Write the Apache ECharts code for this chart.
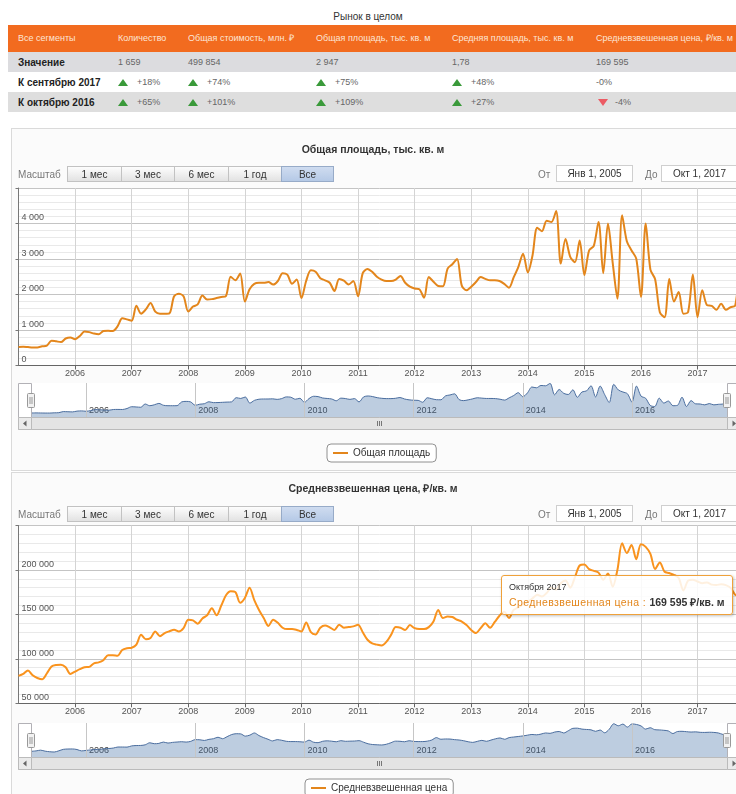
<!DOCTYPE html>
<html><head><meta charset="utf-8">
<script src="https://cdn.jsdelivr.net/npm/echarts@6/dist/echarts.min.js"></script>
<style>
body{margin:0;width:736px;height:794px;overflow:hidden;position:relative;background:#fff;font-family:"Liberation Sans",Arial,sans-serif;}
.a{position:absolute;white-space:nowrap;line-height:11px;}
.rub{line-height:0;}
.btn{position:absolute;height:16px;line-height:16px;font-size:10px;color:#333;text-align:center;background:linear-gradient(#fdfdfd,#e2e2e2);border:1px solid #c2c2c2;box-sizing:border-box;}
.btn.sel{background:linear-gradient(#cfdcf0,#b5c9e6);border-color:#97abc8;}
.inp{position:absolute;height:17px;line-height:15px;font-size:10px;color:#333;text-align:center;background:#fff;border:1px solid #cfcfcf;box-sizing:border-box;}
.tri-up{position:absolute;width:0;height:0;border-left:5px solid transparent;border-right:5px solid transparent;border-bottom:7px solid #3a9a3a;}
.tri-dn{position:absolute;width:0;height:0;border-left:5px solid transparent;border-right:5px solid transparent;border-top:7px solid #ec5b64;}
</style></head><body>
<script>
// ---------------- DATA ----------------
const tableTitle = 'Рынок в целом';
const tableHeaders = ['Все сегменты','Количество','Общая стоимость, млн. ₽','Общая площадь, тыс. кв. м','Средняя площадь, тыс. кв. м','Средневзвешенная цена, ₽/кв. м'];
const rowLabels = ['Значение','К сентябрю 2017','К октябрю 2016'];
const rowValues = [
  ['1 659','499 854','2 947','1,78','169 595'],
  ['+18%','+74%','+75%','+48%','-0%'],
  ['+65%','+101%','+109%','+27%','-4%']
];
const rangeButtons = ['1 мес','3 мес','6 мес','1 год','Все'];
const rangeFrom = 'Янв 1, 2005';
const rangeTo = 'Окт 1, 2017';
const monthNamesGen = ['Января','Февраля','Марта','Апреля','Мая','Июня','Июля','Августа','Сентября','Октября','Ноября','Декабря'];
const startYear = 2005;
const navTicks = [2006, 2008, 2010, 2012, 2014, 2016];

const areaTitle = 'Общая площадь, тыс. кв. м';
const areaName = 'Общая площадь';
const areaValues = [
520,530,520,510,510,540,560,700,680,660,760,790,
740,830,960,940,900,880,970,980,970,1100,1330,1300,
1260,1680,1460,1580,1760,1520,1460,1460,1470,1950,2020,1950,
1520,1660,1720,1970,1860,1870,1900,1930,1960,2500,2400,2590,
1800,2150,2300,2330,2330,2350,2280,2380,2600,2560,2300,2420,
1900,2380,2680,2640,2460,2400,2330,2100,2440,2390,2280,2380,
1950,2600,2720,2640,2500,2420,2380,2380,2420,2520,2330,2220,
2170,2150,1910,2490,2360,2240,2230,2730,2850,3000,2250,2120,
2220,2350,2490,2440,2400,2400,2380,2300,2190,2480,2780,3150,
2620,3100,3880,3780,4080,4040,4350,2870,3560,3060,2910,3520,
2550,3240,3370,4040,2600,4000,2900,1880,4230,3500,3240,3010,
1930,4000,2700,2430,1500,1360,2440,1800,2070,1460,1510,2560,
1360,2120,1700,1680,1570,1740,1570,1640,1690,2947
];

const priceTitle = 'Средневзвешенная цена, ₽/кв. м';
const priceName = 'Средневзвешенная цена';
const priceUnit = '₽/кв. м';
const priceValues = [
80800,83000,87000,81500,78500,77000,83500,91400,93200,93500,90500,83000,
85700,88400,90600,91000,95000,96000,98500,104000,104000,103500,110000,112000,
112500,116000,127000,122000,123500,130800,125500,129000,131000,132700,130800,134600,
144000,143200,139500,145500,149000,157000,149000,160000,171500,176000,175000,163000,
168400,180000,166000,155000,146000,137000,144000,140500,135000,133500,133500,132500,
130800,141000,130000,127500,135000,137500,135500,132500,138400,135000,135700,136500,
138400,130000,121500,117500,116000,115000,119000,127000,135700,135000,132500,138000,
134500,133500,133500,135700,142000,155000,146000,147500,147000,144000,142000,138000,
132500,129000,134600,140000,135000,141500,148500,153000,146000,155000,158000,161000,
164000,168000,172000,170000,174000,180000,178000,185000,188000,180000,192000,205000,
206000,201000,199000,197000,189000,196000,181000,200000,230000,219000,228000,212000,
229000,226000,218000,201000,208500,198000,196500,194500,191000,177000,188000,189000,
187000,185000,186000,183500,183000,184000,183000,180000,172000,169595
];

// month list (categories)
const months = [];
for (let k = 0; k < areaValues.length; k++) {
  months.push({ year: startYear + Math.floor(k / 12), month: k % 12, x: startYear + k / 12 });
}

const FONT = '"Liberation Sans", Arial, sans-serif';
const LINE = '#e3861c';
const fmt = v => String(v).replace(/\B(?=(\d{3})+(?!\d))/g, ' ');

function el(tag, cls, style, text) {
  const d = document.createElement(tag);
  if (cls) d.className = cls;
  Object.assign(d.style, style);
  if (text != null) {
    const parts = String(text).split('₽');
    parts.forEach((p, i) => {
      if (i > 0) { const s = document.createElement('span'); s.className = 'rub'; s.textContent = '₽'; d.appendChild(s); }
      d.appendChild(document.createTextNode(p));
    });
  }
  document.body.appendChild(d);
  return d;
}

// ---------------- TABLE ----------------
const colX = [18, 118, 188, 316, 452, 596];
el('div', 'a', {left:'0', width:'736px', top:'11px', textAlign:'center', fontSize:'10px', color:'#333'}, tableTitle);
el('div', 'a', {left:'8px', top:'25px', width:'728px', height:'27px', background:'#f26b1f'});
tableHeaders.forEach((h, i) => el('div', 'a', {left: colX[i] + 'px', top:'33px', fontSize:'9px', color:'#fde6d6'}, h));
const rowTops = [52, 72, 92];
const rowBg = ['#dcdcdf', '#ffffff', '#dedede'];
rowLabels.forEach((lab, r) => {
  el('div', 'a', {left:'8px', top: rowTops[r] + 'px', width:'728px', height:'20px', background: rowBg[r]});
  el('div', 'a', {left: colX[0] + 'px', top: (rowTops[r] + 5) + 'px', fontSize:'10px', fontWeight:'bold', color:'#222'}, lab);
  rowValues[r].forEach((v, c) => {
    const x = colX[c + 1];
    if (r === 0) {
      el('div', 'a', {left: x + 'px', top: (rowTops[r] + 5) + 'px', fontSize:'9px', color:'#666'}, v);
    } else {
      let tx = x;
      if (v[0] === '+') { el('div', 'tri-up', {left: x + 'px', top: (rowTops[r] + 7) + 'px'}); tx = x + 19; }
      else if (v !== '-0%') { el('div', 'tri-dn', {left: (x + 2) + 'px', top: (rowTops[r] + 7) + 'px'}); tx = x + 19; }
      el('div', 'a', {left: tx + 'px', top: (rowTops[r] + 5) + 'px', fontSize:'9px', color:'#666'}, v);
    }
  });
});

// ---------------- PANELS ----------------
function panelChrome(top, h) {
  el('div', 'a', {left:'11px', top: top + 'px', width:'740px', height: h + 'px', border:'1px solid #dadada', background:'#fbfbfb', boxSizing:'border-box'});
}
function rangeSelector(btnTop) {
  el('div', 'a', {left:'18px', top: (btnTop + 3) + 'px', fontSize:'10px', color:'#777', zIndex:5}, 'Масштаб');
  const bx = [67, 121, 174, 228, 281, 333];
  rangeButtons.forEach((b, i) => {
    el('div', 'btn' + (i === rangeButtons.length - 1 ? ' sel' : ''), {left: bx[i] + 'px', top: btnTop + 'px', width: (bx[i + 1] - bx[i] + 1) + 'px', zIndex:5}, b);
  });
  el('div', 'a', {left:'538px', top: (btnTop + 3) + 'px', fontSize:'10px', color:'#777', zIndex:5}, 'От');
  el('div', 'inp', {left:'556px', top: (btnTop - 1) + 'px', width:'77px', zIndex:5}, rangeFrom);
  el('div', 'a', {left:'645px', top: (btnTop + 3) + 'px', fontSize:'10px', color:'#777', zIndex:5}, 'До');
  el('div', 'inp', {left:'661px', top: (btnTop - 1) + 'px', width:'77px', zIndex:5}, rangeTo);
}
panelChrome(128, 343);
panelChrome(472, 330);
rangeSelector(166);
rangeSelector(506);

function chartDiv(top, h) {
  return el('div', 'a', {left:'0', top: top + 'px', width:'760px', height: h + 'px', zIndex:2});
}

function navDecor(navTop, navH) {
  const nb = navTop + navH;
  const st = {stroke:'#b2b1b6', lineWidth:1};
  const g = [];
  g.push({type:'rect', shape:{x:18.5, y:navTop + 0.5, width:13, height:navH}, style:{fill:'#fff', ...st}, z:10});
  g.push({type:'rect', shape:{x:727.5, y:navTop + 0.5, width:13, height:navH}, style:{fill:'#fff', ...st}, z:10});
  g.push({type:'rect', shape:{x:18.5, y:nb + 0.5, width:722, height:12}, style:{fill:'#eeeeee', stroke:'#bbbbbb', lineWidth:1}, z:10});
  g.push({type:'rect', shape:{x:31.5, y:nb + 0.5, width:696, height:12}, style:{fill:'#e4e4e4', stroke:'#bbbbbb', lineWidth:1}, z:11});
  [-2, 0, 2].forEach(d => g.push({type:'line', shape:{x1:379.5 + d, y1:nb + 4, x2:379.5 + d, y2:nb + 9}, style:{stroke:'#777', lineWidth:1}, z:12}));
  g.push({type:'rect', shape:{x:18.5, y:nb + 0.5, width:13, height:12}, style:{fill:'#ebebeb', stroke:'#bbbbbb', lineWidth:1}, z:12});
  g.push({type:'polygon', shape:{points:[[26.5, nb + 3.5], [26.5, nb + 9.5], [23, nb + 6.5]]}, style:{fill:'#666'}, z:13});
  g.push({type:'rect', shape:{x:727.5, y:nb + 0.5, width:13, height:12}, style:{fill:'#ebebeb', stroke:'#bbbbbb', lineWidth:1}, z:12});
  g.push({type:'polygon', shape:{points:[[732.5, nb + 3.5], [732.5, nb + 9.5], [736, nb + 6.5]]}, style:{fill:'#666'}, z:13});
  [27.5, 723.5].forEach(hx => {
    g.push({type:'rect', shape:{x:hx, y:navTop + 10.5, width:7, height:14, r:1}, style:{fill:'#f2f2f2', stroke:'#999', lineWidth:1}, z:14});
    g.push({type:'line', shape:{x1:hx + 2.5, y1:navTop + 14, x2:hx + 2.5, y2:navTop + 21}, style:{stroke:'#999', lineWidth:1}, z:15});
    g.push({type:'line', shape:{x1:hx + 4.5, y1:navTop + 14, x2:hx + 4.5, y2:navTop + 21}, style:{stroke:'#999', lineWidth:1}, z:15});
  });
  return g;
}

function buildChart(div, cfg) {
  const chart = echarts.init(div, null, {renderer:'canvas'});
  const pts = cfg.values.map((v, k) => [months[k].x, v]);
  const xMax = months[months.length - 1].x;
  const graphic = [{type:'text', x:373, y:cfg.titleY, style:{text:cfg.title, font:'bold 10.5px ' + FONT, fill:'#333', textAlign:'center', textVerticalAlign:'middle'}}]
    .concat(navDecor(cfg.navTop, cfg.navH));
  chart.setOption({
    animation:false,
    textStyle:{fontFamily:FONT},
    graphic: graphic,
    legend:{data:[cfg.name], left:cfg.legendLeft, top:cfg.legendTop, icon:'rect', itemWidth:15, itemHeight:2, itemGap:5,
      padding:[4, 6, 4, 6], borderColor:'#909090', borderWidth:1, borderRadius:4, backgroundColor:'#fff',
      textStyle:{fontSize:10, color:'#333'}},
    tooltip: cfg.tooltip ? {
      trigger:'axis', triggerOn:'none', alwaysShowContent:true, transitionDuration:0,
      axisPointer:{type:'none'},
      backgroundColor:'rgba(255,255,255,0.86)', borderColor:'#efa13a', borderWidth:1, borderRadius:3, padding:[5, 7],
      extraCssText:'box-shadow:1px 1px 3px rgba(0,0,0,0.25);',
      position: () => cfg.tooltip,
      formatter: params => {
        const p = (Array.isArray(params) ? params : [params]).find(q => q.seriesIndex === 0);
        const m = months[p.dataIndex];
        return '<div style="font-size:9px;color:#333;line-height:12px">' + monthNamesGen[m.month] + ' ' + m.year + '</div>' +
          '<div style="font-size:10.5px;line-height:14px;margin-top:2px"><span style="color:' + LINE + ';letter-spacing:0.4px">' + cfg.name + ' : </span>' +
          '<b style="color:#333">' + fmt(p.value[1]) + ' ' + priceUnit + '</b></div>';
      }
    } : undefined,
    grid:[
      {left:18.5, top:cfg.gridTop, width:721.5, height:cfg.gridH, show:true, backgroundColor:'#fff', borderWidth:0},
      {left:31.5, top:cfg.navTop, width:696, height:cfg.navH, show:true, backgroundColor:'#fff', borderWidth:0}
    ],
    xAxis:[
      {type:'value', gridIndex:0, min:startYear, max:xMax, interval:1,
        axisLine:{show:true, onZero:false, lineStyle:{color:'#666'}},
        axisTick:{show:true, length:4, lineStyle:{color:'#666'}},
        axisLabel:{fontSize:9, color:'#555', margin:4, showMinLabel:false, showMaxLabel:false,
          formatter: v => Number.isInteger(v) ? String(v) : ''},
        splitLine:{show:true, lineStyle:{color:'#d4d4d4'}}},
      {type:'value', gridIndex:1, min:startYear, max:xMax, interval:1,
        axisLine:{show:false}, axisTick:{show:false}, splitLine:{show:false},
        axisLabel:{inside:true, margin:2, align:'left', padding:[0, 0, 0, 3], fontSize:9, color:'#444', showMinLabel:false, showMaxLabel:false,
          formatter: v => navTicks.indexOf(v) >= 0 ? String(v) : ''}}
    ],
    yAxis:[
      {type:'value', gridIndex:0, min:cfg.yMin, max:cfg.yMax, interval:cfg.yInterval,
        axisLine:{show:true, lineStyle:{color:'#777'}},
        axisTick:{show:true, length:3, lineStyle:{color:'#777'}},
        axisLabel:{inside:true, margin:3, verticalAlign:'bottom', padding:[0, 0, 1, 0], fontSize:9, color:'#555', showMaxLabel:false,
          formatter: v => fmt(v)},
        splitLine:{show:true, lineStyle:{color:'#c4c4c4'}},
        minorTick:{show:true, splitNumber:5, length:0},
        minorSplitLine:{show:true, lineStyle:{color:'#e9e9e9'}}},
      {type:'value', gridIndex:1, min:cfg.navMin, max:cfg.navMax, show:false, splitLine:{show:false}}
    ],
    series:[
      {name:cfg.name, type:'line', xAxisIndex:0, yAxisIndex:0, data:pts, symbol:'none', showSymbol:false, smooth:0.3,
        lineStyle:{color:LINE, width:2}, itemStyle:{color:LINE}, z:5},
      {name:'nav', type:'line', xAxisIndex:1, yAxisIndex:1, data:pts, symbol:'none', showSymbol:false, smooth:0.3,
        lineStyle:{color:'#4a6d9e', width:1}, areaStyle:{color:'rgba(69,114,167,0.5)'}, tooltip:{show:false},
        markLine:{silent:true, symbol:'none', label:{show:false}, lineStyle:{color:'#c6c6c6', type:'solid', width:1},
          data: navTicks.map(t => ({xAxis:t}))}, z:3}
    ]
  });
  return chart;
}

const c1 = buildChart(chartDiv(128, 343), {
  title:areaTitle, titleY:22, name:areaName, values:areaValues,
  gridTop:60, gridH:177.5, navTop:255, navH:34,
  yMin:0, yMax:5000, yInterval:1000, navMin:0, navMax:4400,
  legendLeft:327, legendTop:316
});
const c2 = buildChart(chartDiv(470, 324), {
  title:priceTitle, titleY:19, name:priceName, values:priceValues,
  gridTop:55.5, gridH:177.8, navTop:253, navH:34,
  yMin:50000, yMax:250000, yInterval:50000, navMin:50000, navMax:234000,
  legendLeft:305, legendTop:309, tooltip:[501, 105]
});
c2.dispatchAction({type:'showTip', seriesIndex:0, dataIndex:priceValues.length - 1});
</script>
</body></html>
